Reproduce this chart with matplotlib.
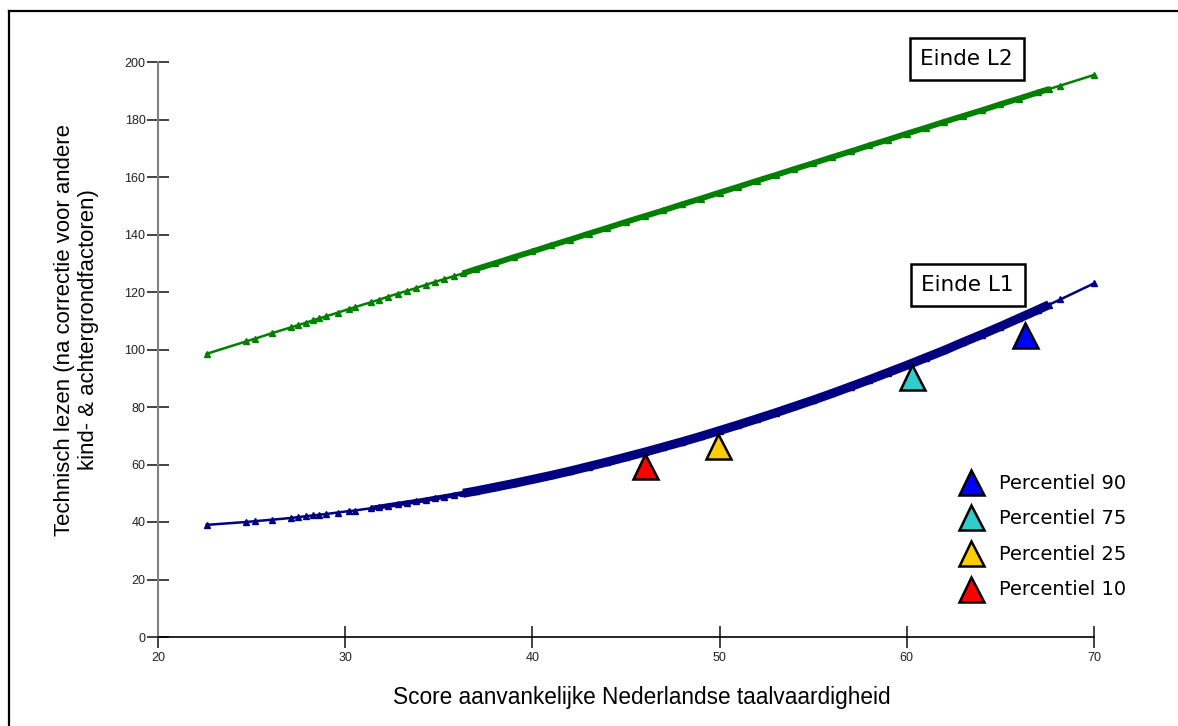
import matplotlib
matplotlib.use("Agg")
import matplotlib.pyplot as plt
from matplotlib.lines import Line2D
import numpy as np

# score on initial Dutch language test (x) and predicted reading score at end of grade 1 / grade 2
score = [22.6, 24.7, 25.2, 26.1, 27.1, 27.5, 27.9, 28.3, 28.6, 29.0, 29.6, 30.2, 30.5,
         31.4, 31.8, 32.3, 32.8, 33.3, 33.8, 34.3, 34.8, 35.3, 35.8, 36.3, 37, 38, 39,
         40, 41, 42, 43, 44, 45, 46, 47, 48, 49, 50, 51, 52, 53, 54, 55, 56, 57, 58,
         59, 60, 61, 62, 63, 64, 65, 66, 67, 67.6, 68.2, 70]
einde_l1 = [39.0, 40.0, 40.3, 40.8, 41.4, 41.7, 42.0, 42.3, 42.5, 42.8, 43.3, 43.8, 44.0,
            44.8, 45.2, 45.7, 46.2, 46.7, 47.2, 47.7, 48.3, 48.8, 49.4, 50.0, 50.8, 52.1, 53.4,
            54.8, 56.2, 57.7, 59.3, 60.9, 62.6, 64.3, 66.1, 67.9, 69.8, 71.8, 73.8, 75.9, 78.0,
            80.2, 82.4, 84.7, 87.1, 89.5, 92.0, 94.5, 97.1, 99.7, 102.5, 105.2, 108.0, 110.9,
            113.8, 115.6, 117.4, 123.0]
einde_l2 = [98.5, 102.8, 103.8, 105.7, 107.7, 108.5, 109.3, 110.2, 110.8, 111.6, 112.8, 114.1, 114.7,
            116.5, 117.3, 118.4, 119.4, 120.4, 121.4, 122.5, 123.5, 124.5, 125.5, 126.5, 128.0, 130.0, 132.1,
            134.1, 136.2, 138.2, 140.3, 142.3, 144.4, 146.4, 148.4, 150.5, 152.5, 154.6, 156.6, 158.7, 160.7,
            162.8, 164.8, 166.9, 168.9, 171.0, 173.0, 175.1, 177.1, 179.2, 181.2, 183.2, 185.3, 187.3,
            189.4, 190.6, 191.8, 195.5]

# percentile markers
pct_labels = ['Percentiel 90', 'Percentiel 75', 'Percentiel 25', 'Percentiel 10']
pct_x = [66.3, 60.3, 49.9, 46.0]
pct_y = [105.0, 90.4, 66.4, 59.5]
pct_colors = ['#0000FF', '#33CCCC', '#FFCC00', '#FF0000']

x_ticks = [20, 30, 40, 50, 60, 70]
y_ticks = [0, 20, 40, 60, 80, 100, 120, 140, 160, 180, 200]

fig = plt.figure(figsize=(11.78, 7.26), dpi=100)
ax = fig.add_axes([158 / 1178, 1 - 637 / 726, (1094 - 158) / 1178, (637 - 62) / 726])

x = np.array(score)
l1 = np.array(einde_l1)
l2 = np.array(einde_l2)
mid = (x >= 31.4) & (x <= 37)
dense = (x >= 36.3) & (x <= 67.6)

# green line (end of L2)
ax.plot(x, l2, color='#008000', lw=1.8, marker='^', ms=5, zorder=3, clip_on=False)
ax.plot(x[dense], l2[dense], color='#008000', lw=4.2, zorder=3, solid_capstyle='butt')
# navy curve (end of L1)
ax.plot(x, l1, color='#000080', lw=1.8, marker='^', ms=5, zorder=3, clip_on=False)
ax.plot(x[mid], l1[mid], color='#000080', lw=3.5, zorder=3, solid_capstyle='butt')
ax.plot(x[dense], l1[dense], color='#000080', lw=6.5, zorder=3, solid_capstyle='butt')

for px, py, c, lab in zip(pct_x, pct_y, pct_colors, pct_labels):
    ax.plot(px, py, linestyle='none', marker='^', ms=18, markerfacecolor=c,
            markeredgecolor='black', markeredgewidth=1.8, label=lab, zorder=5)

ax.set_xlim(20, 70)
ax.set_ylim(0, 200)
ax.set_xticks(x_ticks)
ax.set_yticks(y_ticks)
ax.tick_params(axis='both', direction='inout', length=16, width=1.2, labelsize=9,
               colors='#222222')
ax.tick_params(axis='y', pad=1)
ax.tick_params(axis='x', pad=3)
for lab in ax.get_xticklabels() + ax.get_yticklabels():
    lab.set_family('Liberation Sans')
ax.spines['top'].set_visible(False)
ax.spines['right'].set_visible(False)
ax.spines['left'].set_color('#808080')
ax.spines['left'].set_linewidth(1.5)
ax.spines['bottom'].set_color('black')
ax.spines['bottom'].set_linewidth(1.2)

ax.set_xlabel('Score aanvankelijke Nederlandse taalvaardigheid', family='Liberation Sans',
              fontsize=16.3)
ax.xaxis.set_label_coords(0.517, -0.085)
ax.set_ylabel('Technisch lezen (na correctie voor andere\nkind- & achtergrondfactoren)',
              family='Liberation Sans', fontsize=15.9, linespacing=1.2)
ax.yaxis.set_label_coords(-0.063, 0.534)

box = dict(boxstyle='square,pad=0.5', facecolor='white', edgecolor='black', linewidth=1.8)
ax.text(0.864, 1.005, 'Einde L2', transform=ax.transAxes, ha='center', va='center',
        fontsize=15.5, family='DejaVu Sans', bbox=box)
ax.text(0.865, 0.612, 'Einde L1', transform=ax.transAxes, ha='center', va='center',
        fontsize=15.5, family='DejaVu Sans', bbox=box)

leg = ax.legend(loc='upper left', bbox_to_anchor=(949 / 1178, 1 - 464 / 726),
                bbox_transform=fig.transFigure, frameon=False, fontsize=14,
                labelspacing=0.85, handlelength=1.3, handletextpad=0.75, borderpad=0)
for t in leg.get_texts():
    t.set_family('DejaVu Sans')

# outer frame of the original picture
fig.add_artist(Line2D([9 / 1178, 9 / 1178], [0, 1 - 11 / 726], color='black', lw=1.6,
                      transform=fig.transFigure))
fig.add_artist(Line2D([9 / 1178, 1], [1 - 11 / 726, 1 - 11 / 726], color='black', lw=1.6,
                      transform=fig.transFigure))

fig.savefig('out.png', dpi=100)
plt.close(fig)
